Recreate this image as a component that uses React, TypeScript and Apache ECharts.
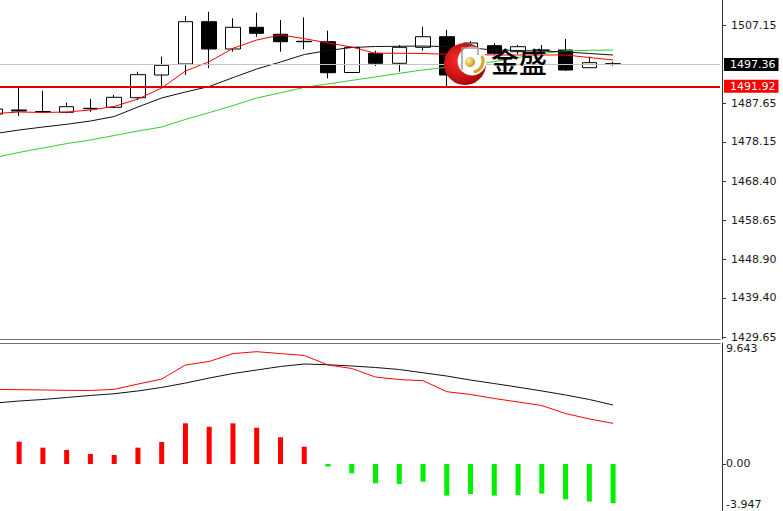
import React, { useEffect, useRef } from "react";
import * as echarts from "echarts";

// ---- data ----
const categories = [
  "1", "2", "3", "4", "5", "6", "7", "8", "9", "10", "11", "12", "13", "14", "15", "16",
  "17", "18", "19", "20", "21", "22", "23", "24", "25", "26", "27", "28", "29", "30", "31",
];

// [open, close, low, high]
const candles = [
  [1485.04, 1486.29, 1484.54, 1486.78],
  [1486.04, 1485.79, 1484.55, 1491.5],
  [1485.66, 1485.61, 1485.42, 1490.83],
  [1485.47, 1486.86, 1485.22, 1487.85],
  [1486.36, 1486.46, 1485.61, 1488.77],
  [1486.71, 1489.19, 1486.46, 1489.76],
  [1489.09, 1494.81, 1488.52, 1495.55],
  [1494.73, 1497.14, 1491.68, 1499.28],
  [1497.46, 1507.97, 1494.73, 1509.39],
  [1507.97, 1501.19, 1496.4, 1510.45],
  [1501.19, 1506.58, 1500.52, 1508.81],
  [1506.58, 1505.09, 1504.24, 1510.21],
  [1504.84, 1503.0, 1500.52, 1508.39],
  [1503.1, 1503.0, 1501.11, 1509.06],
  [1503.0, 1495.3, 1493.91, 1505.73],
  [1495.35, 1501.61, 1495.3, 1501.65],
  [1500.12, 1497.64, 1496.97, 1500.77],
  [1497.64, 1501.61, 1495.55, 1502.18],
  [1501.61, 1504.24, 1500.77, 1506.73],
  [1504.24, 1494.73, 1491.5, 1505.91],
  [1499.45, 1502.68, 1498.46, 1503.18],
  [1502.01, 1500.12, 1499.7, 1502.61],
  [1500.52, 1501.76, 1499.95, 1502.18],
  [1500.87, 1500.94, 1499.7, 1502.18],
  [1500.94, 1495.97, 1495.72, 1503.67],
  [1496.54, 1497.79, 1496.54, 1499.28],
  [1497.54, 1497.36, 1497.04, 1498.03],
];

const maRed = [
  1485.17, 1485.54, 1485.42, 1485.54, 1486.04, 1486.91, 1488.77, 1491.5, 1495.72, 1498.03,
  1501.36, 1503.42, 1504.67, 1503.77, 1502.68, 1501.69, 1500.12, 1500.12, 1500.07, 1499.87,
  1499.82, 1499.7, 1499.7, 1499.7, 1499.7, 1499.08, 1498.46,
];
const maBlack = [
  1480.2, 1481.07, 1481.81, 1482.49, 1483.3, 1484.42, 1486.78, 1489.02, 1490.51, 1491.87,
  1494.08, 1496.22, 1497.96, 1499.82, 1500.82, 1501.56, 1501.81, 1501.86, 1501.93, 1501.76,
  1501.44, 1500.94, 1500.82, 1500.69, 1500.44, 1500.07, 1499.7,
];
const maGreen = [
  1474.24, 1475.51, 1476.6, 1477.69, 1478.59, 1479.7, 1480.82, 1481.81, 1483.7, 1485.39,
  1487.13, 1489.02, 1490.31, 1491.65, 1492.52, 1493.39, 1494.26, 1495.15, 1496.0, 1496.64,
  1497.09, 1498.08, 1499.08, 1500.07, 1500.74, 1500.87, 1500.94,
];

const macdHist = [
  2.1, 1.78, 1.3, 1.12, 0.8, 0.72, 1.3, 1.75, 3.24, 2.97, 3.24, 2.89, 2.13, 1.38, -0.2, -0.74,
  -1.54, -1.6, -1.41, -2.52, -2.39, -2.52, -2.47, -2.36, -2.82, -3.0, -3.13,
];
const macdRed = [
  5.95, 5.92, 5.9, 5.87, 5.86, 5.95, 6.37, 6.77, 7.89, 8.17, 8.8, 8.95, 8.8, 8.65, 7.89, 7.61,
  6.93, 6.73, 6.64, 5.76, 5.54, 5.22, 4.94, 4.66, 4.02, 3.59, 3.24,
];
const macdBlack = [
  4.86, 5.02, 5.14, 5.3, 5.46, 5.6, 5.82, 6.1, 6.45, 6.85, 7.21, 7.49, 7.77, 7.97, 7.91, 7.81,
  7.69, 7.53, 7.27, 7.01, 6.69, 6.41, 6.12, 5.82, 5.5, 5.14, 4.7,
];

const priceTicks = [1429.65, 1439.4, 1448.9, 1458.65, 1468.4, 1478.15, 1487.65, 1507.15];
const macdTicks = [-3.947, 0, 9.643];
const currentPrice = 1497.36;
const levelPrice = 1491.92;
const priceMin = 1429.16;
const priceMax = 1513.36;
const macdMin = -3.947;
const macdMax = 9.643;

const FONT = "DejaVu Sans";

export default function App() {
  const ref = useRef<HTMLDivElement>(null);

  useEffect(() => {
    if (!ref.current) return;
    const chart = echarts.init(ref.current, null, { renderer: "svg" });

    const labelStyle = {
      color: "#1a1a1a",
      fontSize: 11,
      fontFamily: FONT,
    };

    const option: any = {
      animation: false,
      backgroundColor: "#ffffff",
      grid: [
        { left: -16.5, top: 0, width: 736.5, height: 339, outerBoundsMode: "none" },
        { left: -16.5, top: 343, width: 736.5, height: 170.5, outerBoundsMode: "none" },
      ],
      xAxis: [
        {
          type: "category",
          gridIndex: 0,
          data: categories,
          boundaryGap: true,
          position: "bottom",
          axisLine: { show: true, onZero: false, lineStyle: { color: "#6e6e6e", width: 1 } },
          axisTick: { show: false },
          axisLabel: { show: false },
          splitLine: { show: false },
        },
        {
          type: "category",
          gridIndex: 1,
          data: categories,
          boundaryGap: true,
          position: "top",
          axisLine: { show: true, onZero: false, lineStyle: { color: "#6e6e6e", width: 1 } },
          axisTick: { show: false },
          axisLabel: { show: false },
          splitLine: { show: false },
        },
      ],
      yAxis: [
        {
          type: "value",
          gridIndex: 0,
          position: "right",
          offset: 2,
          min: priceMin,
          max: priceMax,
          axisLine: { show: true, lineStyle: { color: "#333", width: 1 } },
          axisTick: {
            show: true,
            length: 4,
            customValues: priceTicks,
            lineStyle: { color: "#333" },
          },
          axisLabel: {
            ...labelStyle,
            margin: 9,
            customValues: priceTicks,
            formatter: (v: number) => v.toFixed(2),
          },
          splitLine: { show: false },
        },
        {
          type: "value",
          gridIndex: 1,
          position: "right",
          offset: 2,
          min: macdMin,
          max: macdMax,
          axisLine: { show: true, lineStyle: { color: "#333", width: 1 } },
          axisTick: {
            show: true,
            length: 4,
            customValues: [0],
            lineStyle: { color: "#333" },
          },
          axisLabel: {
            ...labelStyle,
            margin: 4,
            customValues: macdTicks,
            verticalAlignMinLabel: "bottom",
            verticalAlignMaxLabel: "top",
            formatter: (v: number) =>
              v === 0 ? "0.00" : v < 0 ? "{lo|" + v.toFixed(3) + "}" : v.toFixed(3),
            rich: {
              lo: { ...labelStyle, padding: [0, 0, 4, 0] },
            },
          },
          splitLine: { show: false },
        },
      ],
      series: [
        {
          type: "candlestick",
          xAxisIndex: 0,
          yAxisIndex: 0,
          data: candles,
          barWidth: 15,
          z: 2,
          itemStyle: {
            color: "#ffffff",
            color0: "#000000",
            borderColor: "#000000",
            borderColor0: "#000000",
            borderColorDoji: "#000000",
            borderWidth: 1,
          },
          markLine: {
            silent: true,
            symbol: ["none", "none"],
            animation: false,
            data: [
              {
                yAxis: currentPrice,
                lineStyle: { color: "#c4c4c4", width: 1, type: "solid" },
                label: {
                  show: true,
                  position: "end",
                  distance: 4,
                  formatter: () => currentPrice.toFixed(2),
                  color: "#ffffff",
                  backgroundColor: "#000000",
                  fontSize: 11,
                  fontFamily: FONT,
                  padding: [1, 3, 1, 6],
                },
              },
              {
                yAxis: levelPrice,
                lineStyle: { color: "#e00000", width: 2, type: "solid" },
                label: {
                  show: true,
                  position: "end",
                  distance: 4,
                  formatter: () => levelPrice.toFixed(2),
                  color: "#ffffff",
                  backgroundColor: "#ff0000",
                  fontSize: 11,
                  fontFamily: FONT,
                  padding: [1, 3, 1, 6],
                },
              },
            ],
          },
        },
        {
          type: "line",
          xAxisIndex: 0,
          yAxisIndex: 0,
          data: maGreen,
          symbol: "none",
          z: 3,
          lineStyle: { color: "#33cc33", width: 1 },
        },
        {
          type: "line",
          xAxisIndex: 0,
          yAxisIndex: 0,
          data: maBlack,
          symbol: "none",
          z: 3,
          lineStyle: { color: "#111111", width: 1 },
        },
        {
          type: "line",
          xAxisIndex: 0,
          yAxisIndex: 0,
          data: maRed,
          symbol: "none",
          z: 3,
          lineStyle: { color: "#ff0000", width: 1 },
        },
        {
          type: "bar",
          xAxisIndex: 1,
          yAxisIndex: 1,
          data: macdHist.map((v) => ({
            value: v,
            itemStyle: { color: v >= 0 ? "#ff0000" : "#00ee00" },
          })),
          barWidth: 5,
        },
        {
          type: "line",
          xAxisIndex: 1,
          yAxisIndex: 1,
          data: macdBlack,
          symbol: "none",
          lineStyle: { color: "#111111", width: 1 },
        },
        {
          type: "line",
          xAxisIndex: 1,
          yAxisIndex: 1,
          data: macdRed,
          symbol: "none",
          lineStyle: { color: "#ff0000", width: 1 },
        },
      ],
      graphic: [
        {
          type: "circle",
          z: 100,
          shape: { cx: 465, cy: 64, r: 21 },
          style: {
            fill: new echarts.graphic.RadialGradient(0.35, 0.4, 0.75, [
              { offset: 0, color: "#ff2a2a" },
              { offset: 1, color: "#9a0000" },
            ]),
          },
        },
        {
          type: "circle",
          z: 101,
          shape: { cx: 472, cy: 61, r: 14.5 },
          style: { fill: "#ffffff" },
        },
        {
          type: "polyline",
          z: 102,
          shape: { points: [[462, 70], [462, 48], [478, 48], [478, 55]] },
          style: { stroke: "#9a9a9a", lineWidth: 1.5, fill: null },
        },
        {
          type: "circle",
          z: 103,
          shape: { cx: 470, cy: 62, r: 5 },
          style: {
            fill: new echarts.graphic.RadialGradient(0.35, 0.35, 0.8, [
              { offset: 0, color: "#fff2a0" },
              { offset: 1, color: "#b8860b" },
            ]),
          },
        },
        {
          type: "arc",
          z: 103,
          shape: { cx: 472, cy: 61, r: 11, startAngle: -0.15 * Math.PI, endAngle: 0.45 * Math.PI },
          style: { stroke: "#d6a520", lineWidth: 3, fill: null },
        },
        {
          type: "text",
          z: 104,
          x: 491,
          y: 61,
          style: {
            text: "金盛",
            font: '500 28px "Noto Sans CJK SC"',
            fill: "#000000",
            verticalAlign: "middle",
          },
        },
      ],
    };

    chart.setOption(option);
    return () => chart.dispose();
  }, []);

  return (
    <div
      ref={ref}
      style={{ position: "fixed", left: 0, top: 0, width: 783, height: 511, background: "#fff" }}
    />
  );
}
